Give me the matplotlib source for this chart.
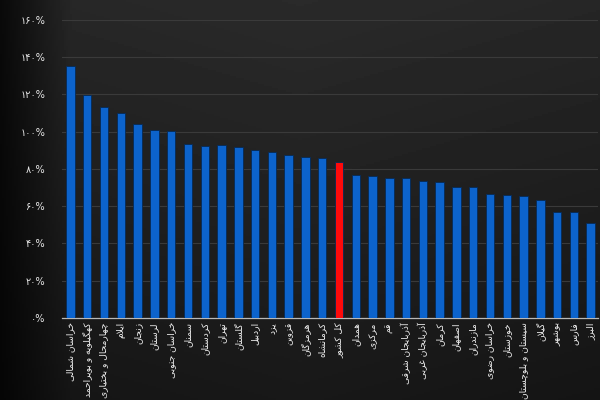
import numpy as np
import matplotlib
matplotlib.use("Agg")
import matplotlib.pyplot as plt

provinces = ["خراسان شمالی", "کهگیلویه و بویراحمد", "چهارمحال و بختیاری", "ایلام", "زنجان",
             "لرستان", "خراسان جنوبی", "سمنان", "کردستان", "تهران", "گلستان", "اردبیل", "یزد",
             "قزوین", "هرمزگان", "کرمانشاه", "کل کشور", "همدان", "مرکزی", "قم",
             "آذربایجان شرقی", "آذربایجان غربی", "کرمان", "اصفهان", "مازندران", "خراسان رضوی",
             "خوزستان", "سیستان و بلوچستان", "گیلان", "بوشهر", "فارس", "البرز"]
values = [135, 119.5, 113, 109.8, 104, 100.6, 100.3, 93.1, 92.3, 92.6, 91.5, 90.1, 88.8,
          87.4, 86.2, 85.7, 83.5, 76.7, 76.3, 75.2, 74.9, 73.6, 72.7, 70.1, 70.1, 66.3,
          66.0, 65.6, 63.3, 56.7, 56.7, 51.1]
highlight = "کل کشور"
yticks = [0, 20, 40, 60, 80, 100, 120, 140, 160]

# matplotlib has no arabic shaping, so do it by hand with presentation forms
# (isolated, final, initial, medial); None for initial = right-joining letter
FORMS = {
    'آ': ('\uFE81', '\uFE82', None, None),
    'ا': ('\uFE8D', '\uFE8E', None, None),
    'ب': ('\uFE8F', '\uFE90', '\uFE91', '\uFE92'),
    'پ': ('\uFB56', '\uFB57', '\uFB58', '\uFB59'),
    'ت': ('\uFE95', '\uFE96', '\uFE97', '\uFE98'),
    'ج': ('\uFE9D', '\uFE9E', '\uFE9F', '\uFEA0'),
    'چ': ('\uFB7A', '\uFB7B', '\uFB7C', '\uFB7D'),
    'ح': ('\uFEA1', '\uFEA2', '\uFEA3', '\uFEA4'),
    'خ': ('\uFEA5', '\uFEA6', '\uFEA7', '\uFEA8'),
    'د': ('\uFEA9', '\uFEAA', None, None),
    'ذ': ('\uFEAB', '\uFEAC', None, None),
    'ر': ('\uFEAD', '\uFEAE', None, None),
    'ز': ('\uFEAF', '\uFEB0', None, None),
    'س': ('\uFEB1', '\uFEB2', '\uFEB3', '\uFEB4'),
    'ش': ('\uFEB5', '\uFEB6', '\uFEB7', '\uFEB8'),
    'ص': ('\uFEB9', '\uFEBA', '\uFEBB', '\uFEBC'),
    'ض': ('\uFEBD', '\uFEBE', '\uFEBF', '\uFEC0'),
    'غ': ('\uFECD', '\uFECE', '\uFECF', '\uFED0'),
    'ف': ('\uFED1', '\uFED2', '\uFED3', '\uFED4'),
    'ق': ('\uFED5', '\uFED6', '\uFED7', '\uFED8'),
    'ک': ('\uFB8E', '\uFB8F', '\uFB90', '\uFB91'),
    'گ': ('\uFB92', '\uFB93', '\uFB94', '\uFB95'),
    'ل': ('\uFEDD', '\uFEDE', '\uFEDF', '\uFEE0'),
    'م': ('\uFEE1', '\uFEE2', '\uFEE3', '\uFEE4'),
    'ن': ('\uFEE5', '\uFEE6', '\uFEE7', '\uFEE8'),
    'ه': ('\uFEE9', '\uFEEA', '\uFEEB', '\uFEEC'),
    'و': ('\uFEED', '\uFEEE', None, None),
    'ی': ('\uFBFC', '\uFBFD', '\uFBFE', '\uFBFF'),
}


def dual(c):
    return c in FORMS and FORMS[c][2] is not None


def shape(text):
    out = []
    i = 0
    while i < len(text):
        c = text[i]
        prev = text[i - 1] if i > 0 else None
        nxt = text[i + 1] if i + 1 < len(text) else None
        if c not in FORMS:
            out.append(c)
        elif c == 'ل' and nxt == 'ا':
            out.append('\uFEFC' if dual(prev) else '\uFEFB')
            i += 1
        else:
            iso, fin, ini, med = FORMS[c]
            jp = dual(prev)
            jn = ini is not None and nxt in FORMS
            out.append(med if jp and jn else fin if jp else ini if jn else iso)
        i += 1
    return ''.join(reversed(out))


def fa_digits(s):
    return s.translate(str.maketrans("0123456789", "۰۱۲۳۴۵۶۷۸۹"))


fig = plt.figure(figsize=(6, 4), dpi=100)

# dark gray background, black towards the left edge and the bottom
bg = fig.add_axes([0, 0, 1, 1], zorder=-1)
yy, xx = np.mgrid[0:1:200j, 0:1:300j]
light = 0.165 - 0.07 * yy - 0.03 * np.abs(xx - 0.5)
light = light * np.clip(0.25 + xx / 0.16, 0, 1)
bg.imshow(light, cmap="gray", vmin=0, vmax=1, aspect="auto", extent=[0, 1, 0, 1])
bg.axis("off")

ax = fig.add_axes([0.103, 0.205, 0.894, 0.746])
ax.set_facecolor("none")
x = np.arange(len(provinces))
colors = ["#ff0a0a" if p == highlight else "#0c63cc" for p in provinces]
ax.bar(x, values, width=0.5, color=colors, edgecolor="#062a55", linewidth=0.6, zorder=3)

ax.set_ylim(0, 160)
ax.set_xlim(-0.52, len(provinces) - 0.55)
ax.set_yticks(yticks)
ax.set_yticklabels([fa_digits(str(t)) + "%" for t in yticks], color="#e8e8e8", fontsize=7)
ax.set_xticks(x)
ax.set_xticklabels([shape(p) for p in provinces], rotation=90, color="#f0f0f0", fontsize=6.6,
                   family="DejaVu Sans")
ax.tick_params(axis="x", length=0, pad=3)
ax.tick_params(axis="y", length=0, pad=12)
ax.grid(axis="y", color="#3a3a3a", linewidth=0.8, zorder=0)
for s in ["top", "right", "left"]:
    ax.spines[s].set_visible(False)
ax.spines["bottom"].set_color("#b8b8b8")
ax.spines["bottom"].set_linewidth(0.9)

fig.savefig("out.png", dpi=100)
